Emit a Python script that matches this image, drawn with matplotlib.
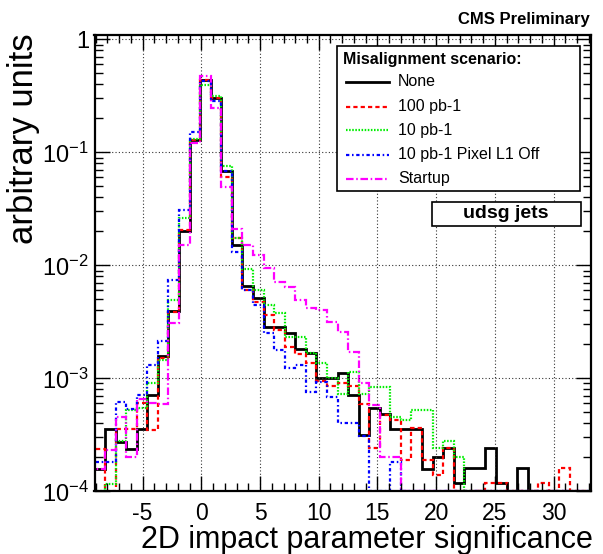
import numpy as np
import matplotlib
matplotlib.use('Agg')
import matplotlib.pyplot as plt
from matplotlib.ticker import MultipleLocator, LogLocator, FuncFormatter, NullFormatter
from matplotlib.lines import Line2D
from matplotlib.patches import Rectangle

plt.rcParams['font.family'] = ['Liberation Sans', 'DejaVu Sans']
plt.rcParams['mathtext.fontset'] = 'custom'
plt.rcParams['mathtext.rm'] = 'Liberation Sans'

# binning of the shown histogram range (bins of 0.9 starting at -9.1)
x_lo = -9.1
bin_width = 0.9
n_bins = 47

# bin contents, one value per bin, 0 = empty bin
none_vals = [1.57e-4, 3.56e-4, 2.75e-4, 2.35e-4, 3.56e-4, 7.1e-4, 1.58e-3, 3.94e-3, 0.0201, 0.128,
             0.436, 0.30, 0.0687, 0.0152, 0.0066, 0.0051, 0.00284, 0.00284, 0.0025, 0.00183,
             0.00167, 0.001, 0.001, 0.00111, 0.00071, 0.000315, 0.00055, 0.00048, 0.000356, 0.000356,
             0.000356, 0.000157, 0.0002, 0.00024, 0.000119, 0.00016, 0.00016, 0.00024, 0.000119, 0,
             0.00016, 0, 0, 0, 0, 0, 0]
pb100_vals = [2.35e-4, 0, 3.56e-4, 3.56e-4, 6.0e-4, 3.5e-4, 1.5e-3, 3.9e-3, 0.0205, 0.128,
              0.44, 0.30, 0.061, 0.0173, 0.006, 0.00476, 0.00363, 0.0027, 0.0019, 0.00163,
              0.00137, 0.00095, 0.00085, 0.0009, 0.00086, 0.00059, 0.00024, 0.00047, 0.00043, 0.00019,
              0.00036, 0.00019, 0.00014, 0.00024, 0, 0, 0, 0.000119, 0.000119, 0,
              0, 0, 0.000119, 0, 0.00016, 0, 0]
pb10_vals = [0, 1.15e-4, 2.78e-4, 5.2e-4, 5.5e-4, 9.0e-4, 1.45e-3, 4.9e-3, 0.0264, 0.13,
             0.394, 0.315, 0.076, 0.0173, 0.0092, 0.0061, 0.00443, 0.00376, 0.00233, 0.00233,
             0.00168, 0.00137, 0.001, 0.00072, 0.00114, 0.00073, 0.00084, 0.00084, 0.00045, 0.00043,
             0.00052, 0.00052, 0.00024, 0.00028, 0.0002, 0, 0, 0, 0, 0,
             0, 0, 0, 0, 0, 0, 0]
pixoff_vals = [1.8e-4, 1.8e-4, 6.2e-4, 5.3e-4, 7.1e-4, 1.31e-3, 2.16e-3, 7.4e-3, 0.0308, 0.15,
               0.43, 0.286, 0.068, 0.0132, 0.006, 0.0045, 0.0025, 0.00178, 0.00123, 0.0013,
               0.00076, 0.00093, 0.00069, 0.000405, 0.000405, 0.000306, 0, 0, 0.00018, 0,
               0, 0, 0, 0, 0, 0, 0, 0, 0, 0,
               0, 0, 0, 0, 0, 0, 0]
startup_vals = [1.58e-4, 2.34e-4, 4.5e-4, 2.0e-4, 6.5e-4, 6.0e-4, 5.9e-4, 3.1e-3, 0.0151, 0.12,
                0.473, 0.245, 0.0496, 0.0208, 0.0151, 0.0123, 0.0094, 0.00716, 0.00646, 0.00493,
                0.00416, 0.004, 0.00317, 0.00258, 0.00172, 0.0009, 0.00058, 0.0002, 0.0002, 0,
                0, 0, 0, 0, 0, 0, 0, 0, 0, 0,
                0, 0, 0, 0, 0, 0, 0]

labels = ['None', '100 pb-1', '10 pb-1', '10 pb-1 Pixel L1 Off', 'Startup']
colors = ['black', '#ff0000', '#00ee00', '#0000ff', '#ff00ff']

ymin, ymax = 1e-4, 1.1
edges = x_lo + bin_width * np.arange(n_bins + 1)

# ROOT-like line styles
styles = [('-', 2.0),
          ((0, (1.9, 1.4)), 1.6),
          ((0, (0.7, 0.7)), 1.6),
          ((0, (1.5, 1.2, 0.7, 1.2)), 1.6),
          ((0, (3.4, 1.2, 0.7, 1.2)), 1.6)]

W, H = 603, 554
fig = plt.figure(figsize=(W / 100, H / 100), dpi=100)
ax = fig.add_axes([94.5 / W, 1 - 491.3 / H, 496.6 / W, 456.6 / H])

all_vals = [none_vals, pb100_vals, pb10_vals, pixoff_vals, startup_vals]
for vals, col, (ls, lw) in zip(all_vals, colors, styles):
    v = np.array(vals, dtype=float)
    v = np.where(v > 0, v, ymin)  # empty bins drawn on the bottom edge like ROOT
    ax.stairs(v, edges, baseline=ymin, color=col, linestyle=ls, linewidth=lw)

ax.set_yscale('log')
ax.set_xlim(edges[0], edges[-1])
ax.set_ylim(ymin, ymax)

ax.xaxis.set_major_locator(MultipleLocator(5))
ax.xaxis.set_minor_locator(MultipleLocator(1))
ax.yaxis.set_major_locator(LogLocator(base=10))
ax.yaxis.set_minor_locator(LogLocator(base=10, subs=np.arange(2, 10)))
ax.yaxis.set_minor_formatter(NullFormatter())


def ylab(v, pos):
    e = int(round(np.log10(v)))
    if e == 0:
        return '1'
    return r'$\mathregular{10^{%d}}$' % e


ax.yaxis.set_major_formatter(FuncFormatter(ylab))
ax.xaxis.set_major_formatter(FuncFormatter(lambda v, p: '%d' % v))

ax.tick_params(which='both', direction='in', top=True, right=True, width=1)
ax.tick_params(which='major', length=11)
ax.tick_params(which='minor', length=6)
ax.tick_params(axis='x', labelsize=16.5, pad=8)
ax.tick_params(axis='y', labelsize=17, pad=4)
for s in ax.spines.values():
    s.set_linewidth(1.6)
ax.grid(True, which='major', linestyle=(0, (1, 2)), color='#333333', linewidth=0.8)

fig.text(593 / W, 1 - 548 / H, '2D impact parameter significance', ha='right', va='baseline', fontsize=22)
fig.text(24 / W, 1 - 33 / H, 'arbitrary units', rotation=90, ha='center', va='top', fontsize=25)
fig.text(590 / W, 1 - 24 / H, 'CMS Preliminary', ha='right', va='baseline', fontsize=12, fontweight='bold')

# legend box
fig.patches.append(Rectangle((337.3 / W, 1 - 190.7 / H), (580 - 337.3) / W, (190.7 - 46) / H,
                             transform=fig.transFigure, facecolor='white', edgecolor='black', lw=1.2, zorder=5))
fig.text(343 / W, 1 - 64 / H, 'Misalignment scenario:', fontsize=11.5, fontweight='bold', zorder=6)
line_y = [82, 106.5, 130, 154.5, 179]
for lab, col, (ls, lw), yy in zip(labels, colors, styles, line_y):
    fig.lines.append(Line2D([346 / W, 389 / W], [1 - yy / H, 1 - yy / H], transform=fig.transFigure,
                            color=col, linestyle=ls, linewidth=lw, zorder=6))
    fig.text(398 / W, 1 - yy / H, lab, fontsize=11.5, va='center', zorder=6)

# jet flavour box
fig.patches.append(Rectangle((432 / W, 1 - 226 / H), (580.7 - 432) / W, (226 - 201.7) / H,
                             transform=fig.transFigure, facecolor='white', edgecolor='black', lw=1.2, zorder=5))
fig.text(506 / W, 1 - 214 / H, 'udsg jets', ha='center', va='center', fontsize=14, fontweight='bold', zorder=6)

fig.savefig('out.png', dpi=100)
